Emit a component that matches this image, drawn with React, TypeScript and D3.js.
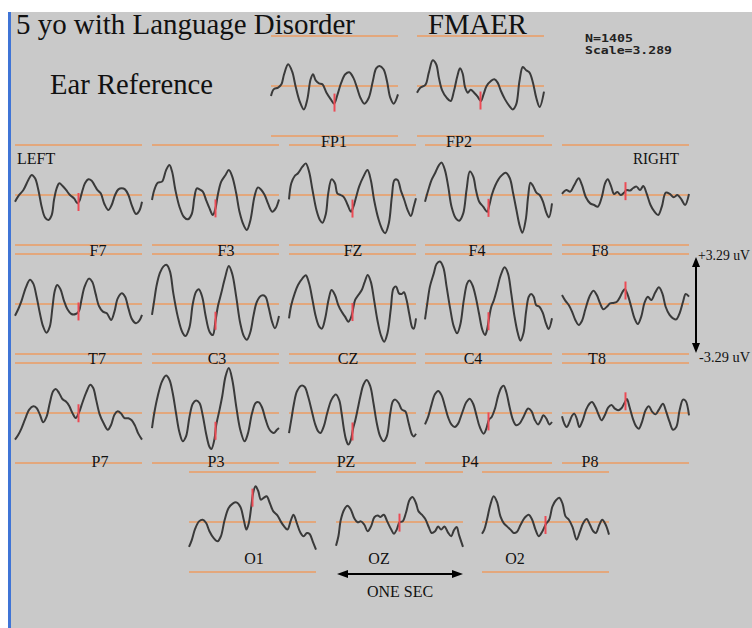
import React from "react";
import * as d3 from "d3";

// ---- data: time (ms, 0..1000 epoch) and amplitude (uV) ----
const SCALE_UV = 3.29;
const EPOCH_MS = 1000;
const MARK_MS = 500;

const FP1 = [[0,-0.66],[21,-0.22],[56,-0.11],[82,0.11],[103,0.77],[135,1.43],[167,0.94],[193,0],[225,-0.99],[259,-1.54],[286,-0.88],[312,0.44],[331,0.77],[352,0.37],[378,0.18],[405,0.11],[437,-0.44],[471,-0.88],[497,-1.16],[524,-0.55],[553,0.22],[585,0.77],[616,0.9],[648,0.55],[677,-0.11],[704,-0.77],[735,-1.16],[770,-0.77],[802,0.33],[828,1.16],[854,1.32],[886,1.1],[913,0.33],[939,-0.77],[966,-1.16],[1000,-0.55]];
const FP2 = [[0,-0.44],[26,-0.11],[66,0.07],[93,0.88],[124,1.69],[151,1.43],[172,0.55],[198,-0.29],[233,-0.77],[265,-0.99],[291,-0.33],[318,0.66],[339,1.16],[360,0.81],[378,-0.07],[400,-0.44],[423,-0.24],[450,-0.44],[476,-0.68],[503,-0.99],[524,-0.55],[548,0],[582,0.33],[609,0.44],[635,0.22],[661,-0.33],[693,-0.88],[728,-1.32],[754,-1.54],[781,-1.21],[807,0.33],[833,1.25],[860,1.03],[886,0.88],[913,0.22],[939,-0.77],[966,-1.38],[1000,-0.37]];
const F7 = [[0,-0.44],[26,-0.07],[66,0.33],[105,0.99],[131,1.32],[158,1.1],[184,0.33],[210,-0.77],[236,-1.47],[263,-1.64],[289,-1.32],[307,-0.33],[328,0.44],[349,0.77],[375,0.59],[402,0.33],[433,0],[465,-0.22],[491,-0.55],[507,-0.39],[525,0.11],[551,0.77],[578,1.03],[604,0.94],[625,0.66],[648,0.33],[675,0.11],[704,-0.59],[735,-0.99],[761,-0.66],[788,0],[814,0.37],[840,0.44],[866,0.37],[893,0],[919,-0.66],[953,-1.25],[979,-1.03],[1000,-0.44]];
const F3 = [[0,-0.33],[18,0.33],[45,0.81],[79,0.88],[111,1.64],[137,1.97],[158,1.54],[184,0.33],[216,-0.77],[250,-1.43],[282,-1.6],[313,-1.25],[334,-0.15],[353,0.44],[374,0.37],[400,0.22],[426,-0.33],[453,-0.88],[479,-1.32],[500,-0.88],[518,0],[545,0.88],[579,1.32],[605,1.64],[632,1.21],[663,0.11],[689,-1.1],[721,-1.97],[747,-2.3],[774,-1.69],[808,-0.07],[834,0.5],[861,0.33],[887,0],[913,-0.55],[947,-1.1],[974,-0.88],[1000,-0.29]];
const FZ = [[0,-0.29],[18,0.77],[45,1.25],[71,1.43],[106,1.86],[132,2.08],[158,1.54],[185,0.33],[216,-0.99],[243,-1.64],[264,-1.82],[290,-1.25],[309,0.11],[335,1.03],[362,0.77],[380,0.11],[406,0],[433,-0.15],[462,-0.66],[488,-1.1],[507,-0.77],[528,-0.15],[552,0.55],[586,1.21],[618,1.64],[644,0.99],[670,-0.33],[705,-1.6],[736,-2.3],[757,-2.52],[786,-1.86],[810,-0.11],[831,0.99],[855,0.99],[881,0.29],[908,-0.33],[934,-0.99],[960,-1.38],[982,-0.77],[1000,-0.22]];
const F4 = [[0,-0.44],[26,0.33],[52,0.99],[79,1.43],[110,1.97],[131,2.13],[157,1.64],[183,0.55],[209,-0.77],[243,-1.54],[270,-1.69],[301,-1.21],[327,0.33],[353,1.54],[380,1.21],[401,0.33],[427,-0.44],[458,-0.77],[490,-1.1],[505,-0.72],[526,0],[555,0.66],[594,1.21],[636,1.47],[668,1.1],[694,0.11],[720,-0.99],[746,-2.04],[767,-2.48],[793,-1.64],[812,-0.11],[830,0.81],[851,0.59],[877,0.15],[903,0],[929,-0.44],[955,-1.16],[976,-1.47],[1000,-0.55]];
const F8 = [[0,0.07],[34,0.33],[65,0.22],[97,0.66],[131,1.1],[157,0.66],[188,-0.15],[222,-0.55],[253,-0.66],[282,-0.77],[313,-0.15],[339,0.77],[360,1.03],[386,0.59],[410,0.07],[436,0.2],[462,0],[488,0.15],[509,0.33],[535,0.29],[561,0.46],[587,0.55],[614,0.33],[640,0.59],[666,0.11],[697,-0.66],[728,-1.1],[757,-1.32],[786,-0.77],[817,0.15],[849,0.07],[880,-0.15],[909,0],[940,-0.29],[969,-0.66],[1000,0.07]];
const T7 = [[0,-0.77],[26,-0.33],[52,0.22],[86,1.1],[118,1.6],[144,1.34],[170,0.48],[196,-0.61],[222,-1.49],[248,-1.89],[274,-1.49],[295,-0.22],[313,0.86],[332,1.25],[358,0.97],[384,0.26],[413,-0.35],[444,-0.66],[478,-0.66],[504,-0.46],[522,0.22],[548,1.14],[582,1.67],[608,1.47],[634,0.7],[661,-0.13],[692,-0.5],[723,-0.61],[757,-1.05],[783,-0.5],[809,0.37],[841,0.7],[867,0.48],[893,-0.29],[922,-1.01],[953,-1.27],[979,-1.1],[1000,-0.72]];
const C3 = [[0,-0.72],[18,0.26],[37,1.25],[63,2.06],[89,2.46],[116,2.57],[142,2.13],[168,0.7],[203,-0.83],[237,-1.82],[263,-2.11],[295,-1.54],[321,0],[347,0.81],[368,0.97],[395,0.48],[421,-0.72],[453,-1.82],[479,-2.04],[500,-1.1],[521,-0.07],[545,0.7],[574,1.69],[605,2.5],[632,1.97],[663,0.48],[695,-1.27],[724,-2.13],[747,-2.35],[774,-1.86],[800,-0.72],[826,0.15],[861,0.55],[892,0.5],[918,-0.22],[945,-1.16],[968,-1.6],[1000,-0.79]];
const CZ = [[0,-0.94],[18,-0.07],[45,0.7],[71,1.25],[106,1.69],[132,1.89],[158,1.36],[185,0.26],[211,-0.83],[238,-1.49],[259,-1.62],[285,-0.94],[311,0.26],[335,0.92],[362,0.59],[388,-0.07],[414,-0.5],[441,-0.83],[467,-1.16],[486,-0.94],[501,-0.5],[520,0.26],[546,0.59],[573,0.92],[594,1.4],[620,1.91],[644,1.47],[670,0.26],[697,-1.1],[723,-2.04],[749,-2.48],[776,-1.89],[802,-0.29],[823,1.03],[844,1.14],[866,0.7],[887,0.66],[905,0.77],[926,0.26],[947,-0.66],[971,-1.56],[982,-1.62],[1000,-0.94]];
const C4 = [[0,-1.01],[18,0.04],[39,1.16],[70,2.04],[91,2.63],[117,2.79],[144,2.41],[170,1.14],[198,-0.29],[227,-1.49],[253,-1.93],[279,-1.32],[305,0.22],[332,1.36],[350,1.54],[373,1.25],[399,0.48],[426,-0.66],[452,-1.71],[473,-2.04],[488,-1.71],[504,-0.94],[522,-0.18],[543,0.26],[567,0.97],[595,1.86],[627,2.41],[653,2.02],[679,0.7],[705,-0.83],[731,-1.93],[752,-2.41],[775,-1.93],[796,-0.5],[817,0.48],[836,0.66],[856,0.48],[875,-0.07],[901,-0.18],[927,-0.57],[953,-1.29],[974,-1.64],[1000,-0.94]];
const T8 = [[0,0.59],[26,0.22],[53,-0.07],[79,-0.5],[105,-1.05],[132,-1.38],[158,-1.1],[184,-0.35],[216,0.48],[247,0.88],[274,0.59],[300,0.04],[326,-0.35],[353,-0.18],[379,0.04],[405,0.07],[432,0.15],[458,0.48],[479,0.83],[495,0.97],[518,0.59],[545,-0.18],[571,-0.94],[597,-1.32],[624,-0.83],[650,0.09],[676,0.48],[703,0.26],[734,0.75],[763,1.1],[790,0.7],[816,-0.18],[847,-0.72],[874,-0.94],[900,-1.01],[926,-0.61],[953,0.15],[974,0.66],[1000,0.48]];
const P7 = [[0,-1.75],[26,-1.43],[52,-0.99],[78,-0.44],[112,0.22],[144,0.44],[170,0.33],[196,-0.11],[222,-0.61],[248,-0.26],[274,0.66],[300,1.43],[321,1.58],[347,1.32],[373,0.92],[399,0.77],[426,0.48],[452,0],[478,-0.33],[504,0.04],[530,0.66],[561,1.36],[593,1.86],[616,1.64],[640,0.83],[666,-0.07],[697,-0.66],[731,-1.1],[757,-0.77],[783,-0.11],[809,0.11],[836,-0.04],[862,-0.33],[893,-0.35],[919,-0.48],[945,-0.83],[971,-1.36],[1000,-1.75]];
const P3 = [[0,-0.99],[18,0],[45,1.1],[79,2.08],[111,2.46],[137,2.19],[163,1.32],[189,0],[216,-1.27],[242,-1.86],[268,-1.54],[295,-0.26],[321,0.61],[347,0.83],[374,0.66],[400,-0.18],[426,-1.36],[453,-2.24],[468,-2.37],[492,-1.71],[505,-0.83],[532,0.22],[553,1.1],[579,2.41],[605,2.96],[632,2.19],[663,0.44],[695,-1.1],[729,-1.86],[755,-1.36],[787,-0.04],[816,0.66],[842,0.7],[868,0.33],[895,-0.44],[926,-1.1],[958,-1.32],[984,-1.1],[1000,-0.99]];
const PZ = [[0,-1.32],[18,-0.44],[40,0.66],[63,1.43],[98,1.8],[124,1.71],[150,1.1],[177,0.22],[203,-0.66],[230,-1.21],[248,-1.32],[274,-0.88],[301,0],[335,0.88],[369,1.21],[396,0.83],[414,0],[433,-1.1],[449,-1.75],[467,-2.08],[486,-1.8],[504,-1.05],[523,-0.44],[541,0.26],[562,1.1],[586,1.86],[612,2.17],[639,1.78],[665,0.66],[691,-0.66],[718,-1.54],[744,-1.86],[770,-1.54],[797,-0.04],[818,0.77],[837,0.88],[863,0.66],[889,0.22],[916,0.11],[942,-0.66],[969,-1.43],[982,-1.54],[1000,-1.36]];
const P4 = [[0,-0.75],[26,-0.22],[52,0.57],[78,1.23],[104,1.45],[131,1.16],[157,0.44],[183,-0.31],[209,-0.77],[235,-0.92],[261,-0.7],[292,0],[326,0.72],[352,0.94],[379,0.61],[405,-0.15],[431,-0.92],[462,-1.36],[483,-1.03],[504,-0.44],[525,-0.26],[551,0.29],[577,1.16],[601,1.67],[619,1.8],[640,1.38],[666,0.39],[692,-0.44],[718,-0.81],[744,-0.7],[775,-0.26],[812,0.29],[838,0.13],[864,-0.44],[890,-0.75],[914,-0.44],[932,-0.15],[956,-0.37],[979,-0.75],[1000,-0.59]];
const P8 = [[0,-0.22],[18,-0.7],[37,-0.92],[58,-0.61],[79,-0.18],[97,-0.04],[116,-0.37],[137,-0.92],[163,-0.48],[190,0.22],[216,0.61],[237,0.72],[263,0.39],[290,-0.15],[311,-0.48],[337,-0.15],[363,0.35],[390,0.53],[416,0.29],[442,0.18],[468,0.31],[492,0.66],[511,0.92],[532,0.39],[558,-0.37],[584,-0.88],[605,-1.03],[632,-0.53],[658,0.18],[684,0.44],[711,0.07],[737,-0.09],[763,0.22],[795,0.61],[821,0.07],[847,-0.59],[874,-1.1],[900,-0.92],[926,0.18],[953,0.88],[974,0.79],[1000,-0.15]];
const O1 = [[0,-1.64],[21,-1.21],[48,-0.46],[79,0.04],[108,0.15],[135,-0.07],[161,-0.61],[193,-1.05],[225,-1.27],[251,-0.94],[280,0.11],[312,0.92],[344,1.21],[373,1.29],[405,0.99],[431,0.15],[452,-0.5],[471,-0.07],[490,0.99],[505,1.91],[524,2.35],[545,2.04],[566,1.47],[590,1.6],[611,1.69],[638,1.21],[664,0.7],[696,0.44],[722,0.04],[749,-0.29],[775,-0.5],[802,0.11],[823,0.48],[849,-0.07],[876,-0.68],[902,-0.94],[929,-0.72],[950,-0.79],[974,-1.27],[1000,-1.82]];
const OZ = [[0,-1.56],[19,-0.94],[37,0.11],[64,0.81],[90,1.07],[117,0.81],[143,0.26],[170,-0.02],[196,0.04],[223,-0.18],[249,-0.61],[276,-0.29],[302,0.31],[329,0.42],[350,0.33],[377,0.48],[403,0.04],[435,-0.5],[456,-0.77],[478,-0.5],[501,-0.02],[525,0.04],[552,0.64],[578,1.43],[602,1.64],[629,1.25],[650,0.7],[676,0.48],[703,0.2],[730,-0.33],[753,-0.72],[780,-0.61],[804,-0.29],[828,-0.5],[854,-0.29],[881,-0.68],[907,-0.94],[928,-0.55],[950,-0.33],[968,-0.83],[1000,-1.64]];
const O2 = [[0,-0.77],[18,-0.5],[39,0.15],[66,1.14],[92,1.69],[118,1.32],[145,0.37],[171,-0.07],[197,-0.29],[224,-0.5],[250,-0.72],[276,-0.64],[303,-0.2],[334,0.26],[368,0.48],[395,0.15],[421,-0.5],[447,-0.94],[474,-0.64],[505,-0.11],[529,0.15],[555,1.03],[582,1.43],[608,1.6],[634,1.21],[658,0.37],[684,0.15],[713,-0.33],[745,-1.16],[771,-0.64],[797,-0.07],[824,0.2],[850,-0.18],[876,-0.61],[897,-0.72],[924,-0.18],[947,0.15],[974,-0.18],[1000,-0.83]];

const SERIES: Record<string, number[][]> = { FP1, FP2, F7, F3, FZ, F4, F8, T7, C3, CZ, C4, T8, P7, P3, PZ, P4, P8, O1, OZ, O2 };

const ROW_FP = ["FP1", "FP2"];
const ROW_F = ["F7", "F3", "FZ", "F4", "F8"];
const ROW_T = ["T7", "C3", "CZ", "C4", "T8"];
const ROW_P = ["P7", "P3", "PZ", "P4", "P8"];
const ROW_O = ["O1", "OZ", "O2"];

// ---- layout ----
const W = 752;
const H = 628;
const PANEL_W = 127;
const PANEL_H = 100;
const GRID_X = [15, 152, 289, 425, 562];
const ROWS = [
  { names: ROW_FP, top: 36, labelY: 147, xs: [271, 417], lx: [334, 459] },
  { names: ROW_F, top: 145, labelY: 256, xs: GRID_X, lx: [98, 226, 353, 477, 600] },
  { names: ROW_T, top: 254, labelY: 364, xs: GRID_X, lx: [97, 217, 348, 473, 597] },
  { names: ROW_P, top: 363, labelY: 467, xs: GRID_X, lx: [100, 216, 346, 470, 590] },
  { names: ROW_O, top: 472, labelY: 564, xs: [189, 336, 482], lx: [254, 379, 515] },
];

const BG = "#c9c9c9";
const ORANGE = "#e3a77c";
const TRACE = "#3a3a3a";
const RED = "#ec4b55";
const SERIF = "'Liberation Serif', 'Times New Roman', serif";
const MONO = "'DejaVu Sans Mono', 'Liberation Mono', monospace";

function valueAt(data: number[][], t: number) {
  for (let i = 0; i < data.length - 1; i++) {
    const [t0, v0] = data[i];
    const [t1, v1] = data[i + 1];
    if (t >= t0 && t <= t1) return v0 + ((v1 - v0) * (t - t0)) / (t1 - t0);
  }
  return 0;
}

function Panel({ name, x0, top, noBottom }: { name: string; x0: number; top: number; noBottom?: boolean }) {
  const data = SERIES[name];
  const xs = d3.scaleLinear().domain([0, EPOCH_MS]).range([x0, x0 + PANEL_W]);
  const ys = d3.scaleLinear().domain([-SCALE_UV, SCALE_UV]).range([top + PANEL_H, top]);
  const line = d3
    .line<number[]>()
    .x((d) => xs(d[0]))
    .y((d) => ys(d[1]))
    .curve(d3.curveCatmullRom.alpha(0.5));
  const refs = noBottom ? [SCALE_UV, 0] : [SCALE_UV, 0, -SCALE_UV];
  const mv = valueAt(data, MARK_MS);
  return (
    <g>
      {refs.map((r) => (
        <line key={r} x1={xs(0)} x2={xs(EPOCH_MS)} y1={ys(r)} y2={ys(r)} stroke={ORANGE} strokeWidth={2} />
      ))}
      <path d={line(data) || ""} fill="none" stroke={TRACE} strokeWidth={2} strokeLinejoin="round" />
      <line x1={xs(MARK_MS)} x2={xs(MARK_MS)} y1={ys(mv) - 9} y2={ys(mv) + 9} stroke={RED} strokeWidth={2} />
    </g>
  );
}

export default function App() {
  // scale bar uses the T row
  const tRow = ROWS[2];
  const ysT = d3.scaleLinear().domain([-SCALE_UV, SCALE_UV]).range([tRow.top + PANEL_H, tRow.top]);
  const oRow = ROWS[4];
  const xsOZ = d3.scaleLinear().domain([0, EPOCH_MS]).range([oRow.xs[1], oRow.xs[1] + PANEL_W]);
  const arrowY = oRow.top + PANEL_H + 2;
  const barX = 696;
  const yTop = ysT(SCALE_UV) + 3;
  const yBot = ysT(-SCALE_UV) - 1;
  const xL = xsOZ(0) + 1;
  const xR = xsOZ(EPOCH_MS);

  return (
    <svg width={W} height={H} style={{ position: "absolute", left: 0, top: 0 }} xmlns="http://www.w3.org/2000/svg">
      <rect x={0} y={0} width={W} height={H} fill="#ffffff" />
      <rect x={11} y={12} width={W - 11} height={H - 12} fill={BG} />
      <rect x={8} y={12} width={3} height={H - 12} fill="#3f74d6" />

      {ROWS.map((row) =>
        row.names.map((n, i) => (
          <Panel key={n} name={n} x0={row.xs[i]} top={row.top} noBottom={n === "OZ"} />
        ))
      )}

      {ROWS.map((row) =>
        row.names.map((n, i) => (
          <text key={"l" + n} x={row.lx[i]} y={row.labelY} textAnchor="middle" fontFamily={SERIF} fontSize={16} fill="#111">
            {n}
          </text>
        ))
      )}

      <text x={16} y={34} fontFamily={SERIF} fontSize={29} fill="#111" textLength={339} lengthAdjust="spacingAndGlyphs">
        5 yo with Language Disorder
      </text>
      <text x={428} y={34} fontFamily={SERIF} fontSize={29} fill="#111" textLength={99} lengthAdjust="spacingAndGlyphs">
        FMAER
      </text>
      <text x={50} y={94} fontFamily={SERIF} fontSize={29} fill="#111" textLength={163} lengthAdjust="spacingAndGlyphs">
        Ear Reference
      </text>
      <text x={585} y={42} fontFamily={MONO} fontWeight="bold" fontSize={10} fill="#222" textLength={48} lengthAdjust="spacingAndGlyphs">
        N=1405
      </text>
      <text x={585} y={54} fontFamily={MONO} fontWeight="bold" fontSize={10} fill="#222" textLength={87} lengthAdjust="spacingAndGlyphs">
        Scale=3.289
      </text>
      <text x={17} y={164} fontFamily={SERIF} fontSize={16} fill="#111">LEFT</text>
      <text x={633} y={164} fontFamily={SERIF} fontSize={16} fill="#111" textLength={46} lengthAdjust="spacingAndGlyphs">RIGHT</text>

      {/* vertical amplitude scale */}
      <line x1={barX} x2={barX} y1={yTop + 8} y2={yBot - 8} stroke="#000" strokeWidth={2} />
      <polygon points={`${barX},${yTop} ${barX - 4},${yTop + 10} ${barX + 4},${yTop + 10}`} fill="#000" />
      <polygon points={`${barX},${yBot} ${barX - 4},${yBot - 10} ${barX + 4},${yBot - 10}`} fill="#000" />
      <text x={698} y={260} fontFamily={SERIF} fontSize={14} fill="#111" textLength={52} lengthAdjust="spacingAndGlyphs">
        {`+${SCALE_UV} uV`}
      </text>
      <text x={699} y={362} fontFamily={SERIF} fontSize={14} fill="#111" textLength={51} lengthAdjust="spacingAndGlyphs">
        {`-${SCALE_UV} uV`}
      </text>

      {/* one-second bar */}
      <line x1={xL + 8} x2={xR - 8} y1={arrowY} y2={arrowY} stroke="#000" strokeWidth={2} />
      <polygon points={`${xL},${arrowY} ${xL + 11},${arrowY - 4} ${xL + 11},${arrowY + 4}`} fill="#000" />
      <polygon points={`${xR},${arrowY} ${xR - 11},${arrowY - 4} ${xR - 11},${arrowY + 4}`} fill="#000" />
      <text x={(xL + xR) / 2} y={597} textAnchor="middle" fontFamily={SERIF} fontSize={16} fill="#111">
        ONE SEC
      </text>
    </svg>
  );
}
